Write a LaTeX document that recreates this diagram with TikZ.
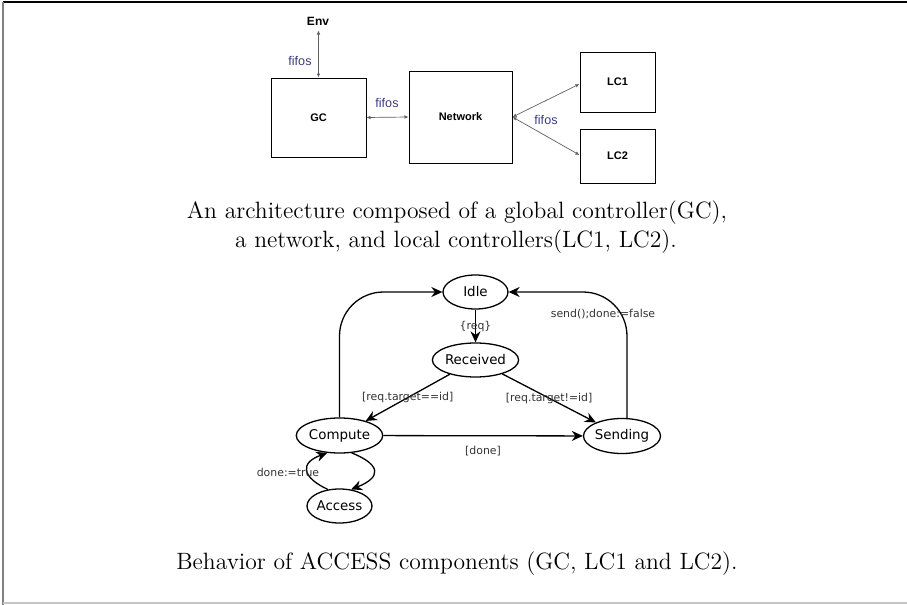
\documentclass[tikz,border=0pt]{standalone}
\usepackage{fontspec}
\newfontfamily\arialf{Liberation Sans}
\newfontfamily\dejavuf{DejaVu Sans}
\usetikzlibrary{arrows.meta,shapes.geometric}
\definecolor{fifoblue}{HTML}{3A3A80}
\definecolor{linkgray}{HTML}{606060}
\tikzset{
  blk/.style={draw=black, line width=0.5pt, inner sep=0pt, font=\arialf\bfseries\fontsize{5.5}{6}\selectfont},
  fifo/.style={text=fifoblue, inner sep=0pt, font=\arialf\fontsize{6.3}{7}\selectfont},
  link/.style={draw=linkgray, line width=0.35pt, {Latex[length=2pt,width=1.8pt]}-{Latex[length=2pt,width=1.8pt]}},
  state/.style={ellipse, draw=black, line width=0.65pt, inner sep=0pt, minimum width=32.5pt, minimum height=17pt, font=\dejavuf\fontsize{6.7}{7}\selectfont},
  trans/.style={draw=black, line width=0.65pt, -{Stealth[length=5.5pt,width=5pt,inset=1.8pt]}},
  glabel/.style={inner sep=0pt, text=black!80, font=\dejavuf\fontsize{5.45}{6}\selectfont},
  caption/.style={inner sep=0pt, font=\fontsize{11.8}{14}\selectfont}
}
\begin{document}
\begin{tikzpicture}[x=0.5pt,y=-0.5pt]
\useasboundingbox (0,0) rectangle (907,605);

% page frame
\draw[black, line width=0.8pt] (3,2) -- (907,2);
\draw[gray, line width=1pt] (3,2) -- (3,605);
\draw[gray!45, line width=0.8pt] (3,603) -- (907,603);

% architecture
\node[inner sep=2.5pt, font=\arialf\bfseries\fontsize{6}{7}\selectfont] (Env) at (318,21) {Env};
\node[blk, minimum width=47.5pt, minimum height=39.5pt] (GC) at (318.5,117.5) {GC};
\node[blk, minimum width=51.5pt, minimum height=46pt] (Network) at (460.5,117) {Network};
\node[blk, minimum width=37.5pt, minimum height=30pt] (LC1) at (617.5,82) {LC1};
\node[blk, minimum width=37.5pt, minimum height=27pt] (LC2) at (617.5,156) {LC2};

\draw[link] (GC.north) -- (GC.north |- Env.south);
\draw[link] (GC.east) -- (Network.west);
\draw[link] (Network.east) -- ([yshift=-1pt]LC1.west);
\draw[link] (Network.east) -- ([yshift=0.5pt]LC2.west);

\node[fifo] (f1) at (300,61) {fifos};
\node[fifo] (f2) at (387,103) {fifos};
\node[fifo] (f3) at (546,120) {fifos};

\node[caption] (cap1) at (457,213) {An architecture composed of a global controller(GC),};
\node[caption] (cap2) at (456,242) {a network, and local controllers(LC1, LC2).};

% behaviour automaton
\node[state, minimum height=17pt] (Idle) at (475.5,292) {Idle};
\node[state, minimum width=36.5pt] (Received) at (475.5,360) {Received};
\node[state, minimum height=17.5pt] (Compute) at (339.5,435.5) {Compute};
\node[state, minimum width=33pt, minimum height=17.5pt] (Sending) at (622,436) {Sending};
\node[state] (Access) at (339.5,506) {Access};

\draw[trans] (Idle) -- node[glabel] {\{req\}} (Received);
\draw[trans] (Received) -- node[glabel] {[req.target==id]} (Compute);
\draw[trans] (Received) -- node[glabel] {[req.target!=id]} (Sending);
\draw[trans] (Compute) -- node[glabel, below=5pt] {[done]} (Sending);
\draw[trans, rounded corners=22pt] (Compute.north) |- (Idle.west);
\draw[trans, rounded corners=22pt] ([xshift=2.5pt]Sending.north) |- (Idle.east);
\draw[trans] (Compute.-55) .. controls +(30,12) and +(30,-12) .. (Access.55);
\draw[trans] (Access.125) .. controls +(-26,-12) and +(-28,10) .. (Compute.-125);

\node[glabel] (lsend) at (603,314) {send();done:=false};
\node[glabel] (ldone) at (288,472) {done:=true};

\node[caption] (cap3) at (457,564) {Behavior of ACCESS components (GC, LC1 and LC2).};
\end{tikzpicture}
\end{document}
